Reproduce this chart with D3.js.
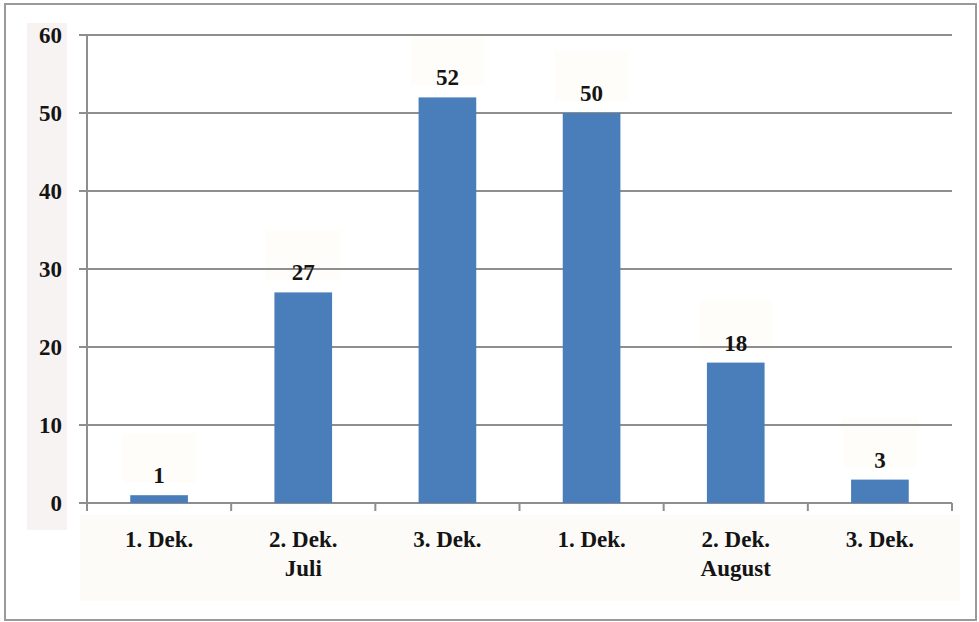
<!DOCTYPE html>
<html><head><meta charset="utf-8">
<script src="https://cdn.jsdelivr.net/npm/d3@7"></script>
<style>html,body{margin:0;padding:0;background:#fff;}svg{display:block;}</style>
</head><body>
<script>
const decades = ["1. Dek.","2. Dek.","3. Dek.","1. Dek.","2. Dek.","3. Dek."];
const months = ["Juli","August"];
const values = [1, 27, 52, 50, 18, 3];
const yTicks = [0, 10, 20, 30, 40, 50, 60];

const W = 979, H = 622;
const m = {left: 87, right: 27, top: 35, bottom: 119};
const svg = d3.select("body").append("svg").attr("width", W).attr("height", H);
const font = "Liberation Serif, Times New Roman, serif";
const fs = 23;

// outer border
svg.append("rect").attr("x", 5).attr("y", 4).attr("width", 971).attr("height", 616)
  .attr("fill", "#fff").attr("stroke", "#9a9a9a").attr("stroke-width", 2);

const ids = decades.map((d, i) => i);
const x = d3.scaleBand().domain(ids).range([m.left, W - m.right]).paddingInner(0.6).paddingOuter(0.3);
const xb = d3.scaleBand().domain(ids).range([m.left, W - m.right]);
const y = d3.scaleLinear().domain([0, 60]).range([H - m.bottom, m.top]);

// label backgrounds
svg.append("rect").attr("x", 27).attr("y", 23).attr("width", 40).attr("height", 507).attr("fill", "#f7f3f2");
svg.append("rect").attr("x", 80).attr("y", 515).attr("width", 880).attr("height", 86).attr("fill", "#fcfbf8");

// data label faint boxes
svg.append("g").selectAll("rect").data(values).join("rect")
  .attr("x", (d, i) => xb(i) + xb.bandwidth() / 2 - 37)
  .attr("y", d => y(d) - 62).attr("width", 74).attr("height", 50)
  .attr("fill", "#fefdf9");

// gridlines
svg.append("g").selectAll("line").data(yTicks).join("line")
  .attr("x1", m.left - 8).attr("x2", W - m.right)
  .attr("y1", d => y(d)).attr("y2", d => y(d))
  .attr("stroke", "#8e8e8e").attr("stroke-width", 2);

// y axis line
svg.append("line").attr("x1", m.left).attr("x2", m.left).attr("y1", y(60)).attr("y2", y(0) + 8)
  .attr("stroke", "#8e8e8e").attr("stroke-width", 2);

// x ticks at band boundaries
const bounds = ids.map(i => xb(i)).concat([xb(ids[ids.length - 1]) + xb.bandwidth()]);
svg.append("g").selectAll("line").data(bounds).join("line")
  .attr("x1", d => d).attr("x2", d => d).attr("y1", y(0)).attr("y2", y(0) + 8)
  .attr("stroke", "#8e8e8e").attr("stroke-width", 2);

// y labels
svg.append("g").selectAll("text").data(yTicks).join("text")
  .attr("x", 62).attr("y", d => y(d)).attr("dy", "0.35em")
  .attr("text-anchor", "end").attr("font-family", font).attr("font-weight", "bold")
  .attr("font-size", fs).attr("fill", "#141414").text(d => d);

// bars
svg.append("g").selectAll("rect").data(values).join("rect")
  .attr("x", (d, i) => x(i)).attr("width", x.bandwidth())
  .attr("y", d => y(d)).attr("height", d => y(0) - y(d))
  .attr("fill", "#4a7ebb");

// data labels
svg.append("g").selectAll("text").data(values).join("text")
  .attr("x", (d, i) => xb(i) + xb.bandwidth() / 2).attr("y", d => y(d) - 12)
  .attr("text-anchor", "middle").attr("font-family", font).attr("font-weight", "bold")
  .attr("font-size", fs).attr("fill", "#141414").text(d => d);

// x labels
svg.append("g").selectAll("text").data(decades).join("text")
  .attr("x", (d, i) => xb(i) + xb.bandwidth() / 2).attr("y", 547)
  .attr("text-anchor", "middle").attr("font-family", font).attr("font-weight", "bold")
  .attr("font-size", fs).attr("fill", "#141414").text(d => d);

// month labels (centered under middle decade of each group of 3)
svg.append("g").selectAll("text").data(months).join("text")
  .attr("x", (d, i) => xb(i * 3 + 1) + xb.bandwidth() / 2).attr("y", 576)
  .attr("text-anchor", "middle").attr("font-family", font).attr("font-weight", "bold")
  .attr("font-size", fs).attr("fill", "#141414").text(d => d);
</script>
</body></html>
